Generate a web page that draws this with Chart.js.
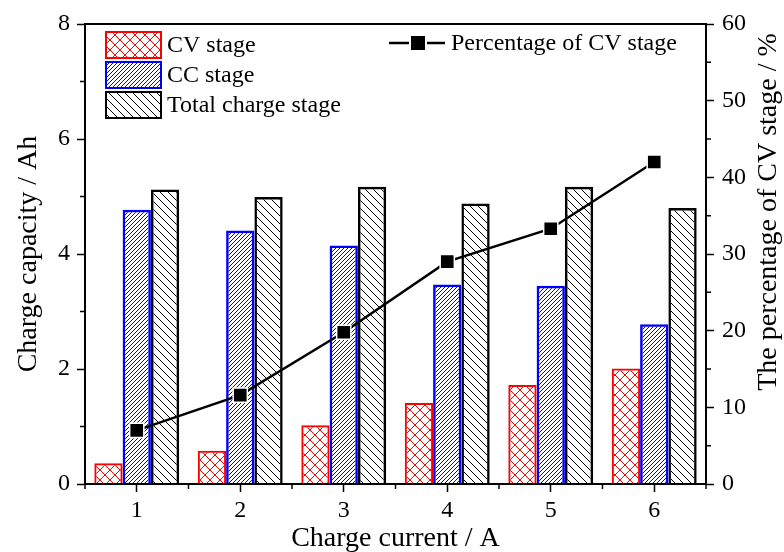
<!DOCTYPE html>
<html>
<head>
<meta charset="utf-8">
<script src="https://cdn.jsdelivr.net/npm/chart.js@4.4.1/dist/chart.umd.min.js"></script>
<style>
  html, body { margin: 0; padding: 0; background: #fff; }
</style>
</head>
<body>
<canvas id="chargeChart" width="784" height="552"></canvas>
<script>
// charge capacity per stage (Ah) and CV share (%) vs charge current (A)
const currents = ['1', '2', '3', '4', '5', '6'];
const cvCapacity = [0.36, 0.58, 1.02, 1.41, 1.72, 2.01];
const ccCapacity = [4.77, 4.41, 4.15, 3.47, 3.45, 2.78];
const totalCapacity = [5.12, 4.99, 5.17, 4.88, 5.17, 4.80];
const cvPercentage = [7.0, 11.6, 19.8, 29.0, 33.3, 42.0];

const SERIF = "'Liberation Serif', 'Times New Roman', serif";

// hatch fill: '/' forward lines, '\\' back lines, both for cross hatch
function hatch(color, size, dirs, lw) {
    const c = document.createElement('canvas');
    c.width = size;
    c.height = size;
    const g = c.getContext('2d');
    g.strokeStyle = color;
    g.lineWidth = lw;
    g.beginPath();
    for (const k of [-size, 0, size]) {
        if (dirs.includes('/')) {
            g.moveTo(k, size);
            g.lineTo(k + size, 0);
        }
        if (dirs.includes('\\')) {
            g.moveTo(k, 0);
            g.lineTo(k + size, size);
        }
    }
    g.stroke();
    return g.createPattern(c, 'repeat');
}

const cvFill = hatch('#ff0000', 10, '/\\', 1);
const ccFill = hatch('#0000ff', 4, '/', 1);
const totalFill = hatch('#000000', 8, '\\', 1);

// legend, top frame line, minor ticks and the right axis title
const decorations = {
    id: 'decorations',
    afterDraw(chart) {
        const { ctx, chartArea: a, scales } = chart;
        ctx.save();
        ctx.strokeStyle = '#000';
        ctx.lineWidth = 2;
        ctx.beginPath();
        ctx.moveTo(a.left - 1, a.top);
        ctx.lineTo(a.right + 1, a.top);
        ctx.stroke();

        ctx.lineWidth = 1.5;
        ctx.beginPath();
        for (let v = 1; v < 8; v += 2) {
            const y = scales.y.getPixelForValue(v);
            ctx.moveTo(a.left - 5, y);
            ctx.lineTo(a.left, y);
        }
        for (let v = 5; v < 60; v += 10) {
            const y = scales.y1.getPixelForValue(v);
            ctx.moveTo(a.right, y);
            ctx.lineTo(a.right + 5, y);
        }
        for (let i = 0; i <= currents.length; i++) {
            const x = scales.x.getPixelForValue(i - 0.5);
            ctx.moveTo(x, a.bottom);
            ctx.lineTo(x, a.bottom + 5);
        }
        ctx.stroke();

        // bar legend
        ctx.font = '24px ' + SERIF;
        ctx.textBaseline = 'middle';
        const bars = chart.data.datasets.filter(d => d.type === 'bar');
        bars.forEach((ds, i) => {
            const top = 32 + i * 30;
            ctx.fillStyle = '#fff';
            ctx.fillRect(106, top, 55, 26);
            ctx.fillStyle = ds.backgroundColor;
            ctx.fillRect(106, top, 55, 26);
            ctx.strokeStyle = ds.borderColor;
            ctx.lineWidth = 2;
            ctx.strokeRect(106, top, 55, 26);
            ctx.fillStyle = '#000';
            ctx.fillText(ds.label, 167, top + 14);
        });

        // line legend
        const line = chart.data.datasets.find(d => d.type === 'line');
        ctx.strokeStyle = '#000';
        ctx.lineWidth = 2.5;
        ctx.beginPath();
        ctx.moveTo(389, 43);
        ctx.lineTo(445, 43);
        ctx.stroke();
        ctx.fillStyle = '#fff';
        ctx.fillRect(409, 34, 18, 18);
        ctx.fillStyle = '#000';
        ctx.fillRect(411, 36, 14, 14);
        ctx.fillText(line.label, 451, 44);

        // right axis title, reading bottom to top
        ctx.translate(769, 212);
        ctx.rotate(-Math.PI / 2);
        ctx.font = '28px ' + SERIF;
        ctx.textAlign = 'center';
        ctx.fillText('The percentage of CV stage / %', 0, 0);
        ctx.restore();
    }
};

const ctx = document.getElementById('chargeChart').getContext('2d');

new Chart(ctx, {
    data: {
        labels: currents,
        datasets: [
            {
                type: 'bar',
                label: 'CV stage',
                data: cvCapacity,
                backgroundColor: cvFill,
                borderColor: '#ff0000',
                borderWidth: 2,
                yAxisID: 'y',
                order: 1
            },
            {
                type: 'bar',
                label: 'CC stage',
                data: ccCapacity,
                backgroundColor: ccFill,
                borderColor: '#0000ff',
                borderWidth: 2.5,
                yAxisID: 'y',
                order: 1
            },
            {
                type: 'bar',
                label: 'Total charge stage',
                data: totalCapacity,
                backgroundColor: totalFill,
                borderColor: '#000000',
                borderWidth: 2.5,
                yAxisID: 'y',
                order: 1
            },
            {
                type: 'line',
                label: 'Percentage of CV stage',
                data: cvPercentage,
                borderColor: '#000',
                borderWidth: 2.5,
                pointStyle: 'rect',
                pointRadius: 10,
                pointBackgroundColor: '#000',
                pointBorderColor: '#fff',
                pointBorderWidth: 1.5,
                yAxisID: 'y1',
                order: 0
            }
        ]
    },
    options: {
        responsive: false,
        animation: false,
        devicePixelRatio: 1,
        layout: { padding: { top: 24, left: 0, right: 0, bottom: 0 } },
        datasets: {
            bar: { barPercentage: 1.0, categoryPercentage: 0.82 }
        },
        plugins: {
            legend: { display: false },
            tooltip: { enabled: false }
        },
        scales: {
            x: {
                type: 'category',
                offset: true,
                afterFit: s => { s.height = 68; },
                border: { color: '#000', width: 2 },
                grid: { drawOnChartArea: false, offset: false, tickLength: 8, tickColor: '#000', tickWidth: 1.5 },
                ticks: { color: '#000', font: { family: SERIF, size: 24 }, padding: 4 },
                title: { display: true, text: 'Charge current / A', color: '#000', font: { family: SERIF, size: 28 }, padding: { top: 0, bottom: -3 } }
            },
            y: {
                position: 'left',
                min: 0,
                max: 8,
                afterFit: s => { s.width = 85; },
                border: { color: '#000', width: 2 },
                grid: { drawOnChartArea: false, tickLength: 8, tickColor: '#000', tickWidth: 1.5 },
                ticks: { stepSize: 2, color: '#000', font: { family: SERIF, size: 24 }, padding: 7 },
                title: { display: true, text: 'Charge capacity / Ah', color: '#000', font: { family: SERIF, size: 28 }, padding: { top: 12 } }
            },
            y1: {
                position: 'right',
                min: 0,
                max: 60,
                afterFit: s => { s.width = 78; },
                border: { color: '#000', width: 2 },
                grid: { drawOnChartArea: false, tickLength: 8, tickColor: '#000', tickWidth: 1.5 },
                ticks: { stepSize: 10, color: '#000', font: { family: SERIF, size: 24 }, padding: 8 }
            }
        }
    },
    plugins: [decorations]
});
</script>
</body>
</html>
